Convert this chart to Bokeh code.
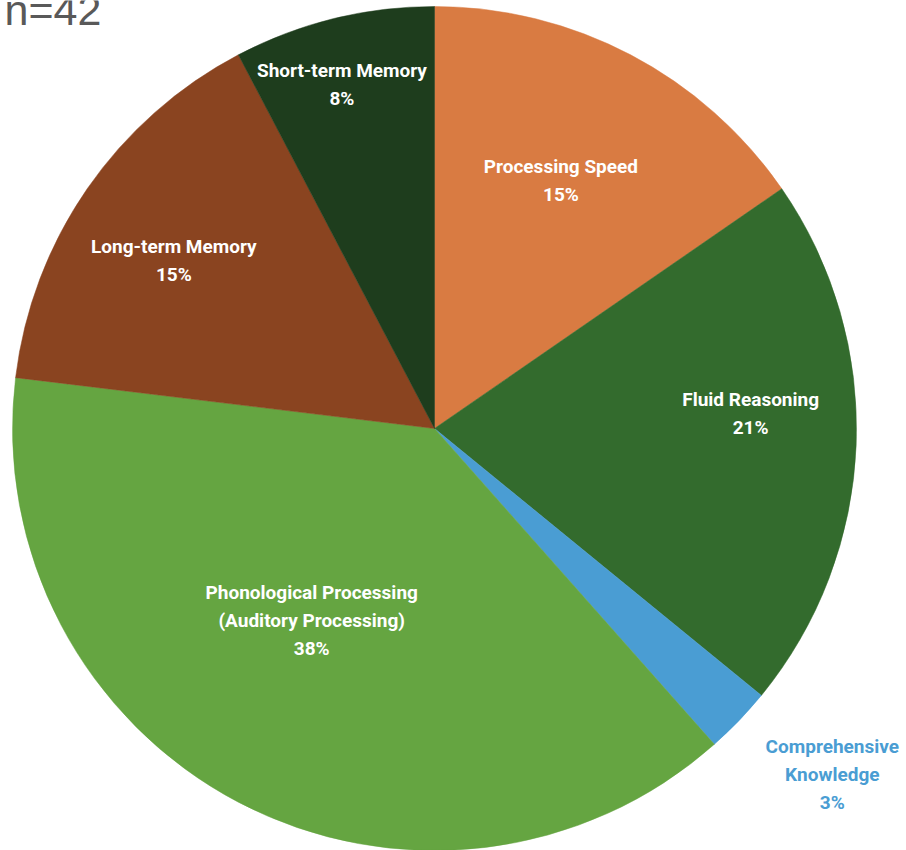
import math
from bokeh.plotting import figure
from bokeh.models import Range1d, ColumnDataSource
from bokeh.core.properties import value
from bokeh.embed import file_html
from bokeh.resources import INLINE

# ---- data ----
categories = ["Processing Speed", "Fluid Reasoning", "Comprehensive\nKnowledge",
              "Phonological Processing\n(Auditory Processing)", "Long-term Memory",
              "Short-term Memory"]
counts = [6, 8, 1, 15, 6, 3]
colors = ["#D97B42", "#336B2D", "#4A9DD3", "#65A541", "#8A4420", "#1E3D1D"]
label_colors = ["white", "white", "#4A9DD3", "white", "white", "white"]
# label placement (angle offset in degrees from slice middle, radius fraction)
label_dang = [-0.7, -5.0, -2.8, 4.9, -1.8, -1.2]
label_rfrac = [0.66, 0.75, 1.25, 0.54, 0.735, 0.845]

W, H = 906, 850
cx, cy, R = 434, H - 428, 422

total = sum(counts)
starts, ends, pcts, lx, ly, texts = [], [], [], [], [], []
cum = 0.0
for i, c in enumerate(counts):
    a0 = cum / total * 360.0
    cum += c
    a1 = cum / total * 360.0
    starts.append(math.radians(90 - a0))
    ends.append(math.radians(90 - a1))
    pct = round(c / total * 100)
    pcts.append(pct)
    mid = (a0 + a1) / 2 + label_dang[i]
    r = R * label_rfrac[i]
    lx.append(cx + r * math.sin(math.radians(mid)))
    ly.append(cy + r * math.cos(math.radians(mid)))
    texts.append(f"{categories[i]}\n{pct}%")

p = figure(width=W, height=H, output_backend="svg", toolbar_location=None,
           x_range=Range1d(0, W), y_range=Range1d(0, H), min_border=0)
p.axis.visible = False
p.grid.visible = False
p.outline_line_color = None
p.background_fill_color = "white"
p.border_fill_color = "white"

src = ColumnDataSource(dict(start=starts, end=ends, color=colors))
p.wedge(x=cx, y=cy, radius=R, start_angle="start", end_angle="end",
        direction="clock", fill_color="color", line_color="color",
        line_width=0.5, source=src)

lsrc = ColumnDataSource(dict(x=lx, y=ly, text=texts, color=label_colors))
p.text(x="x", y="y", text="text", source=lsrc, text_color="color",
       text_font=value("Roboto"), text_font_style="bold", text_font_size="19px",
       text_align="center", text_baseline="middle", text_line_height=1.22)

p.text(x=[4], y=[H + 15], text=["n=42"], text_color="#595959",
       text_font=value("Liberation Sans"), text_font_size="43px",
       text_align="left", text_baseline="top")

open("out.html", "w").write(file_html(p, INLINE))
